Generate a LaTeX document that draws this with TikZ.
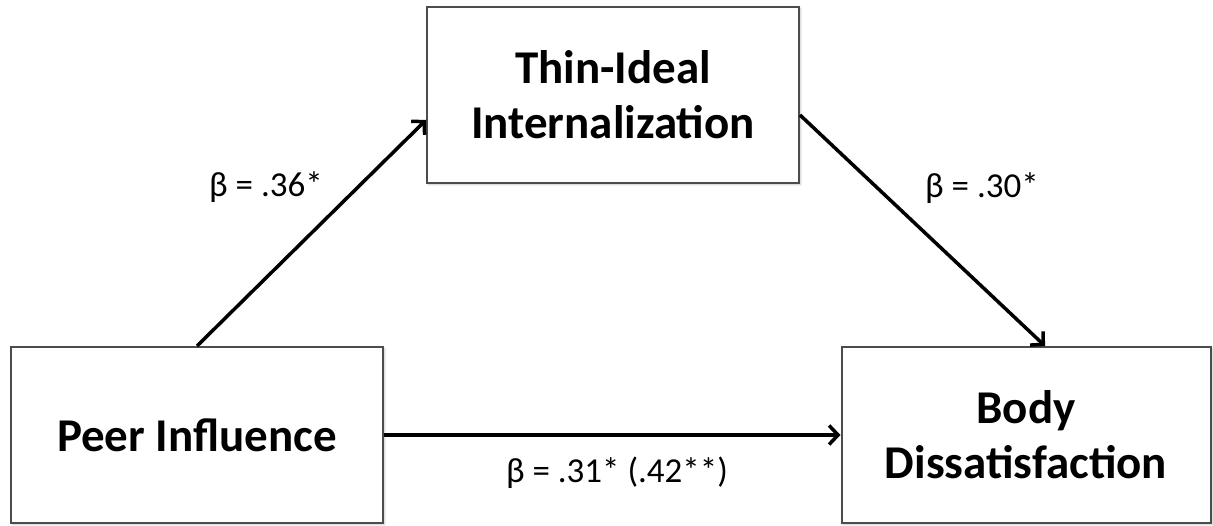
\documentclass[tikz,border=0pt]{standalone}
\usepackage{fontspec}
\setmainfont{Carlito}
\usetikzlibrary{arrows.meta}
\usetikzlibrary{shadows.blur}

\begin{document}
\begin{tikzpicture}[
    x=1pt, y=1pt,
    varbox/.style={rectangle, draw=black!70, line width=2pt, fill=white,
        minimum width=372pt, minimum height=176pt, align=center,
        font=\fontsize{47}{55}\selectfont\bfseries,
        blur shadow={shadow xshift=1.5pt, shadow yshift=-1.5pt, shadow blur radius=2pt, shadow opacity=25}},
    effect/.style={line width=3.5pt, -{Straight Barb[length=9pt, width=19pt]}},
    coef/.style={font=\fontsize{35}{40}\selectfont}
]
\useasboundingbox (0,0) rectangle (1213,525);

% Define variables
\node[varbox] (peer) at (197, 90) {Peer Influence};
\node[varbox] (thin) at (613, 430) {Thin-Ideal\\Internalization};
\node[varbox, minimum width=369pt] (body) at (1026, 90) {Body\\Dissatisfaction};

% Define paths
\draw[effect] (peer.north) -- ([yshift=-25pt]thin.west);
\draw[effect] ([yshift=-20pt]thin.east) -- ([xshift=19pt]body.north);
\draw[effect] (peer.east) -- (body.west);

% Define coefficients
\node[coef] (a) at (266, 338) {β = .36*};
\node[coef] (b) at (982, 337) {β = .30*};
\node[coef] (c) at (617, 52) {β = .31* (.42**)};

\end{tikzpicture}
\end{document}
